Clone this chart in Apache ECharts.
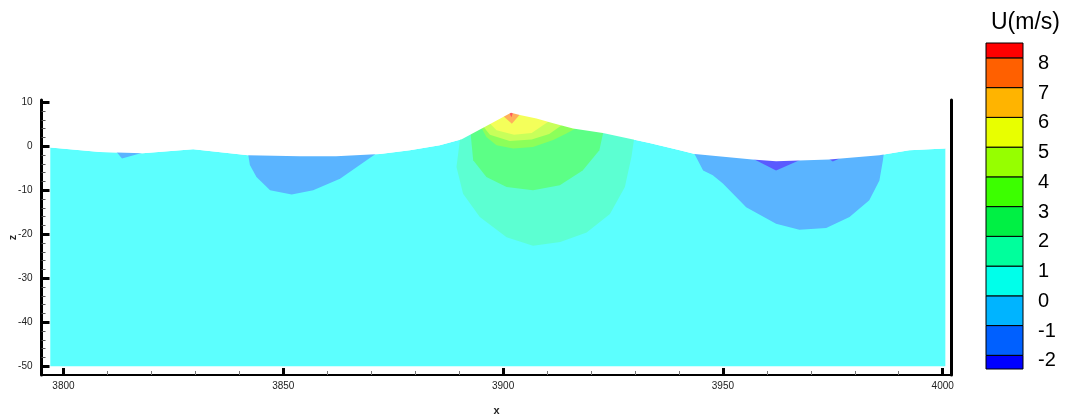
<!DOCTYPE html>
<html>
<head>
<meta charset="utf-8">
<script src="https://cdn.jsdelivr.net/npm/echarts@6.0.0/dist/echarts.min.js"></script>
<style>
html, body { margin: 0; padding: 0; background: #fff; }
#chart { width: 1067px; height: 419px; }
</style>
</head>
<body>
<div id="chart"></div>
<script>
// axis ticks
var xMajor = [3800, 3850, 3900, 3950, 4000];
var xMinor = [3810, 3820, 3830, 3840, 3860, 3870, 3880, 3890, 3910, 3920, 3930, 3940, 3960, 3970, 3980, 3990];
var zMajor = [-50, -40, -30, -20, -10, 0, 10];
var zMinor = [-48, -46, -44, -42, -38, -36, -34, -32, -28, -26, -24, -22, -18, -16, -14, -12, -8, -6, -4, -2, 2, 4, 6, 8];

// colour bar levels
var levelTicks = [-2, -1, 0, 1, 2, 3, 4, 5, 6, 7, 8];
var levelEdges = [-2.46, -2, -1, 0, 1, 2, 3, 4, 5, 6, 7, 8, 8.5];
var levelColors = ['#0000ff', '#0060ff', '#00b4ff', '#00ffea', '#00ff9c', '#00f044', '#3cff00', '#96ff00', '#e8ff00', '#ffb400', '#ff6000', '#ff0000'];

// free surface (x, z)
var surface = [
    [3797.0, -0.3], [3808.3, -1.3], [3818.0, -1.6], [3829.5, -0.7], [3842.0, -2.05],
    [3853.8, -2.3], [3862.0, -2.3], [3872.0, -1.8], [3878.8, -0.9], [3885.6, 0.2],
    [3890.6, 1.6], [3896.0, 4.5], [3901.8, 7.6], [3903.8, 7.1], [3907.6, 6.3],
    [3911.4, 5.2], [3915.9, 4.0], [3922.7, 3.0], [3929.6, 1.5], [3933.3, 0.75],
    [3940.2, -0.9], [3943.6, -1.8], [3956.7, -3.0], [3962.1, -3.4], [3974.2, -3.0],
    [3985.6, -2.05], [3992.4, -0.9], [4000.6, -0.5]
];
var zBottom = -50;

// contour bands: lower boundary of each region, ends on the surface
var negA = [[3811.8, -1.0], [3813.3, -2.8], [3819.0, -1.2]];
var negB = [[3842.0, -1.8], [3842.4, -4.3], [3843.9, -7.0], [3847.0, -10.0], [3851.9, -11.0], [3856.8, -10.0], [3862.9, -7.4], [3867.4, -4.3], [3871.4, -1.5]];
var negC = [[3943.4, -1.5], [3945.5, -5.5], [3947.7, -6.6], [3950.0, -8.5], [3955.3, -13.9], [3962.1, -17.6], [3967.4, -19.0], [3973.5, -18.6], [3978.8, -16.1], [3983.3, -12.3], [3985.6, -7.8], [3986.4, -3.2], [3986.6, -1.6]];
var neg2C = [[3956.5, -2.7], [3962.1, -5.5], [3967.8, -3.0]];
var neg2D = [[3974.0, -2.8], [3975.0, -3.5], [3976.5, -2.8]];

var band12 = [[3890.2, 1.6], [3889.4, -4.7], [3890.9, -10.8], [3894.7, -16.1], [3900.8, -20.7], [3906.8, -22.6], [3913.0, -21.8], [3919.0, -19.6], [3924.3, -15.4], [3927.7, -9.3], [3929.2, -2.4], [3929.8, 1.7]];
var band23 = [[3892.6, 3.0], [3893.2, -3.2], [3896.2, -7.0], [3900.8, -9.3], [3906.8, -10.0], [3912.9, -8.9], [3918.1, -5.5], [3921.9, -0.9], [3922.8, 3.2]];
var band34 = [[3895.0, 4.3], [3896.2, 2.1], [3898.5, 0.2], [3902.3, -0.5], [3906.8, -0.2], [3911.4, 1.4], [3914.4, 2.9], [3916.8, 4.2]];
var band45 = [[3895.4, 4.6], [3897.0, 2.6], [3901.5, 1.2], [3906.5, 1.5], [3910.5, 2.8], [3913.4, 4.8]];
var band56 = [[3896.9, 5.3], [3898.5, 3.6], [3902.5, 2.6], [3906.5, 3.0], [3910.6, 5.8]];
var band67 = [[3899.9, 7.0], [3902.0, 5.1], [3903.9, 7.3]];
var band78 = [[3901.3, 7.8], [3901.9, 6.6], [3902.3, 7.8]];

var xMin = 3795, xMax = 4002, zMin = -52, zMax = 10.5;

// the same bands shown shaded lighter in the plot
var fill = {
    zero: '#5cfffe', neg1: '#5ab4ff', neg2: '#5a5aff',
    b12: '#5cffd2', b23: '#5cff86', b34: '#8cff5a', b45: '#c8ff5a',
    b56: '#f4ff5a', b67: '#ffb05a', b78: '#ff5a5a'
};

function openTop(pts) {
    return pts.concat([[pts[pts.length - 1][0], zMax], [pts[0][0], zMax]]);
}

function polySeries(points, color) {
    return {
        type: 'custom',
        xAxisIndex: 0,
        yAxisIndex: 0,
        silent: true,
        data: [0],
        renderItem: function (params, api) {
            var pts = points.map(function (p) { return api.coord(p); });
            return { type: 'polygon', shape: { points: pts }, style: { fill: color, stroke: null } };
        }
    };
}

var domain = surface.concat([[surface[surface.length - 1][0], zBottom], [surface[0][0], zBottom]]);
var sky = surface.concat([[surface[surface.length - 1][0], zMax], [surface[0][0], zMax]]);

var series = [
    polySeries(domain, fill.zero),
    polySeries(openTop(negA), fill.neg1),
    polySeries(openTop(negB), fill.neg1),
    polySeries(openTop(negC), fill.neg1),
    polySeries(openTop(neg2C), fill.neg2),
    polySeries(openTop(neg2D), fill.neg2),
    polySeries(openTop(band12), fill.b12),
    polySeries(openTop(band23), fill.b23),
    polySeries(openTop(band34), fill.b34),
    polySeries(openTop(band45), fill.b45),
    polySeries(openTop(band56), fill.b56),
    polySeries(openTop(band67), fill.b67),
    polySeries(openTop(band78), fill.b78),
    polySeries(sky, '#ffffff')
];

// colour bar
var legendCells = [];
for (var i = 0; i < levelColors.length; i++) {
    legendCells.push([levelEdges[i], levelEdges[i + 1], i]);
}
series.push({
    type: 'custom',
    xAxisIndex: 2,
    yAxisIndex: 3,
    silent: true,
    data: legendCells,
    renderItem: function (params, api) {
        var top = api.coord([0, api.value(1)]);
        var bot = api.coord([1, api.value(0)]);
        return {
            type: 'rect',
            shape: { x: top[0], y: top[1], width: bot[0] - top[0], height: bot[1] - top[1] },
            style: { fill: levelColors[api.value(2)], stroke: '#000', lineWidth: 1 }
        };
    }
});

var font = 'Liberation Sans, Arial, sans-serif';
var myChart = echarts.init(document.getElementById('chart'), null, { renderer: 'canvas' });
var option = {
    animation: false,
    backgroundColor: '#fff',
    title: {
        text: 'U(m/s)',
        left: 986,
        top: 6,
        textStyle: { fontSize: 23, fontWeight: 'normal', color: '#000', fontFamily: font }
    },
    grid: [
        { left: 41.5, right: 115.5, top: 100, bottom: 44, outerBoundsMode: 'none' },
        { left: 41.5, right: 115.5, top: 100, bottom: 44, outerBoundsMode: 'none' },
        { left: 986, top: 43, width: 37, height: 326, outerBoundsMode: 'none' }
    ],
    xAxis: [
        {
            gridIndex: 0, type: 'value', min: xMin, max: xMax,
            name: 'x', nameLocation: 'middle', nameGap: 30, nameMoveOverlap: false,
            nameTextStyle: { fontSize: 11, fontWeight: 'bold', color: '#222', fontFamily: font },
            axisLine: { onZero: false, lineStyle: { color: '#000', width: 2 } },
            axisTick: { inside: true, length: 7, customValues: xMajor, lineStyle: { color: '#000', width: 3 } },
            axisLabel: {
                customValues: xMajor, fontSize: 10, color: '#222', margin: 6, fontFamily: font,
                formatter: function (v) { return String(v); }
            },
            splitLine: { show: false }
        },
        {
            gridIndex: 1, type: 'value', min: xMin, max: xMax,
            axisLine: { show: false, onZero: false },
            axisTick: { inside: true, length: 4, customValues: xMinor, lineStyle: { color: '#777', width: 1 } },
            axisLabel: { show: false },
            splitLine: { show: false }
        },
        {
            gridIndex: 2, type: 'value', min: 0, max: 1, show: false
        }
    ],
    yAxis: [
        {
            gridIndex: 0, type: 'value', min: zMin, max: zMax, position: 'left',
            name: 'z', nameLocation: 'middle', nameGap: 23, nameRotate: 90, nameMoveOverlap: false,
            nameTextStyle: { fontSize: 11, fontWeight: 'bold', color: '#222', fontFamily: font },
            axisLine: { onZero: false, lineStyle: { color: '#000', width: 3 } },
            axisTick: { inside: true, length: 8, customValues: zMajor, lineStyle: { color: '#000', width: 3 } },
            axisLabel: { customValues: zMajor, fontSize: 10, color: '#222', margin: 9, fontFamily: font },
            splitLine: { show: false }
        },
        {
            gridIndex: 0, type: 'value', min: zMin, max: zMax, position: 'right',
            axisLine: { show: true, onZero: false, lineStyle: { color: '#000', width: 3 } },
            axisTick: { show: false },
            axisLabel: { show: false },
            splitLine: { show: false }
        },
        {
            gridIndex: 1, type: 'value', min: zMin, max: zMax, position: 'left',
            axisLine: { show: false, onZero: false },
            axisTick: { inside: true, length: 4, customValues: zMinor, lineStyle: { color: '#555', width: 1 } },
            axisLabel: { show: false },
            splitLine: { show: false }
        },
        {
            gridIndex: 2, type: 'value', min: -2.46, max: 8.5, position: 'right',
            axisLine: { show: false },
            axisTick: { show: false },
            axisLabel: {
                customValues: levelTicks, fontSize: 20, color: '#000', margin: 15,
                verticalAlign: 'top', lineHeight: 11, fontFamily: font
            },
            splitLine: { show: false }
        }
    ],
    series: series
};
myChart.setOption(option);
</script>
</body>
</html>
